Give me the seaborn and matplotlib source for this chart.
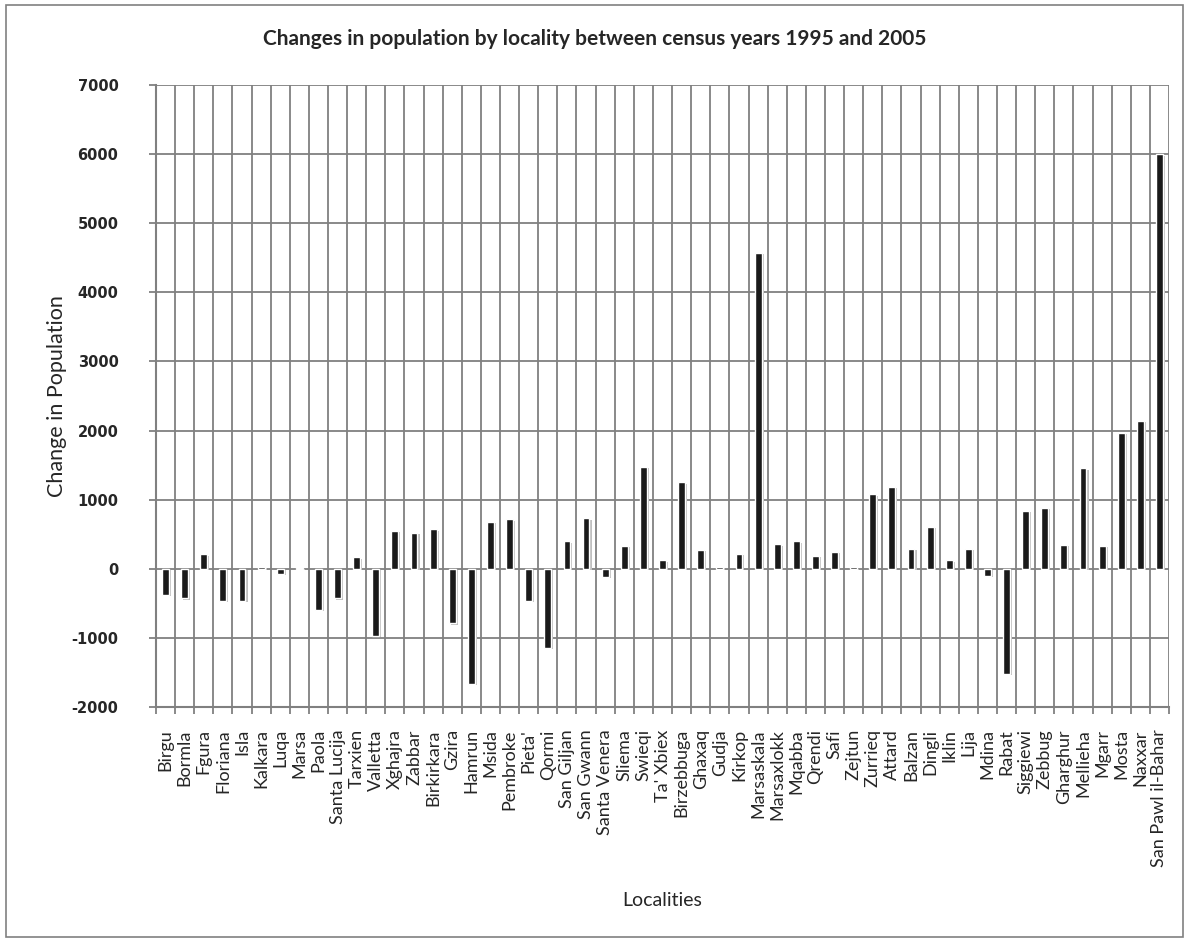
import numpy as np
import pandas as pd
import matplotlib
matplotlib.use('Agg')
import matplotlib.pyplot as plt
import matplotlib.patheffects as pe
from matplotlib.patches import Rectangle
import seaborn as sns

localities = ["Birgu", "Bormla", "Fgura", "Floriana", "Isla", "Kalkara", "Luqa", "Marsa",
              "Paola", "Santa Lucija", "Tarxien", "Valletta", "Xghajra", "Zabbar",
              "Birkirkara", "Gzira", "Hamrun", "Msida", "Pembroke", "Pieta'", "Qormi",
              "San Giljan", "San Gwann", "Santa Venera", "Sliema", "Swieqi", "Ta' Xbiex",
              "Birzebbuga", "Ghaxaq", "Gudja", "Kirkop", "Marsaskala", "Marsaxlokk",
              "Mqabba", "Qrendi", "Safi", "Zejtun", "Zurrieq", "Attard", "Balzan",
              "Dingli", "Iklin", "Lija", "Mdina", "Rabat", "Siggiewi", "Zebbug",
              "Gharghur", "Mellieha", "Mgarr", "Mosta", "Naxxar", "San Pawl il-Bahar"]
changes = [-380, -430, 210, -460, -460, 30, -70, 10,
           -590, -430, 165, -970, 550, 520,
           570, -790, -1665, 680, 715, -460, -1145,
           400, 730, -115, 330, 1475, 125,
           1250, 275, 25, 220, 4570, 355,
           400, 190, 245, 20, 1080, 1185, 290,
           605, 125, 290, -100, -1520, 835, 880,
           345, 1455, 330, 1970, 2140, 6000]
y_ticks = list(range(-2000, 7001, 1000))

sns.set_theme(style="white")
plt.rcParams['font.family'] = ['Lato', 'DejaVu Sans']

df = pd.DataFrame({'Locality': localities, 'Change': changes})
n = len(localities)

fig = plt.figure(figsize=(11.89, 9.42), dpi=100)
ax = fig.add_axes([0.1312, 0.2495, 0.8520, 0.6602])

sns.barplot(data=df, x='Locality', y='Change', color='#1a1a1a', saturation=1,
            width=0.36, ax=ax, zorder=3)
for bar in ax.patches:
    bar.set_path_effects([pe.SimplePatchShadow(offset=(1.5, -1), shadow_rgbFace='0.75', alpha=1),
                          pe.Normal()])

ax.set_xlim(-0.5, n - 0.5)
ax.set_ylim(-2000, 7000)
ax.set_yticks(y_ticks)
ax.set_yticklabels([str(v) for v in y_ticks])
ax.set_xticks(np.arange(-0.5, n), minor=True)
ax.set_xticklabels(localities, rotation=90, fontsize=13)

ax.grid(axis='y', which='major', color='#808080', lw=1.3, zorder=0)
ax.grid(axis='x', which='minor', color='#808080', lw=1.3, zorder=0)
ax.grid(axis='x', which='major', visible=False)
ax.tick_params(axis='x', which='major', length=0, pad=16)
ax.tick_params(axis='x', which='minor', length=5, color='#808080', width=1.3, bottom=True)
ax.tick_params(axis='y', which='major', length=5, color='#808080', width=1.3, left=True, pad=22,
               labelsize=10.5)

for side in ['top', 'right']:
    ax.spines[side].set_visible(False)
for side in ['left', 'bottom']:
    ax.spines[side].set_color('#808080')
    ax.spines[side].set_linewidth(1.5)

ax.set_xlabel('Localities', fontsize=14)
ax.set_ylabel('Change in Population', fontsize=15.5)
ax.xaxis.set_label_coords(0.5, -0.298)
ax.yaxis.set_label_coords(-0.088, 0.5)
fig.text(0.5, 0.959, 'Changes in population by locality between census years 1995 and 2005',
         ha='center', va='center', fontsize=15, fontweight='bold')

fig.patches.append(Rectangle((0.005, 0.005), 0.99, 0.99, transform=fig.transFigure,
                             fill=False, edgecolor='#808080', lw=1.2))

for lab in ax.get_yticklabels():
    lab.set_fontfamily('DejaVu Sans')
    lab.set_fontweight('bold')

fig.savefig('out.png', dpi=100)
